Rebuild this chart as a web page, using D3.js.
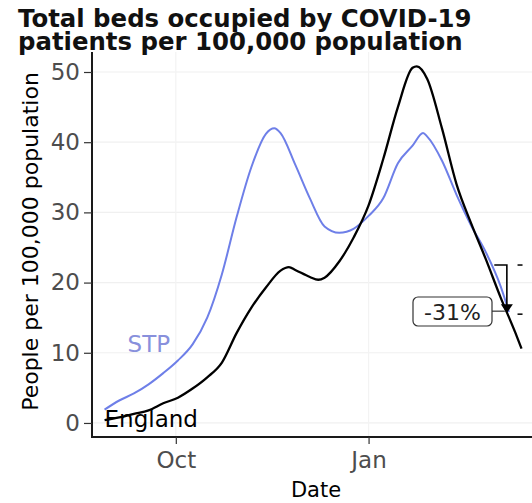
<!DOCTYPE html>
<html>
<head>
<meta charset="utf-8">
<script src="https://cdn.jsdelivr.net/npm/d3@7"></script>
<style>
  body { margin: 0; background: #fff; }
  svg { display: block; font-family: "DejaVu Sans", sans-serif; }
</style>
</head>
<body>
<div id="chart"></div>
<script>
// data
const stpDates = ["2020-08-28","2020-09-04","2020-09-11","2020-09-18","2020-09-25","2020-10-02","2020-10-09",
  "2020-10-16","2020-10-23","2020-10-30","2020-11-06","2020-11-13","2020-11-17","2020-11-20","2020-11-27",
  "2020-12-04","2020-12-11","2020-12-18","2020-12-25","2021-01-01","2021-01-08","2021-01-15","2021-01-22",
  "2021-01-27","2021-01-29","2021-02-05","2021-02-12","2021-02-19","2021-02-26","2021-03-05","2021-03-09"];
const stpValues = [1.9, 3.2, 4.2, 5.5, 7.1, 8.9, 11.2, 15.0, 21.2, 29.3, 36.4, 41.2, 42.0, 41.3, 36.8,
  32.0, 28.0, 27.1, 27.7, 29.5, 32.0, 37.0, 39.5, 41.3, 40.8, 37.4, 32.5, 28.1, 24.3, 19.5, 15.8];

const engDates = ["2020-08-28","2020-09-04","2020-09-11","2020-09-18","2020-09-25","2020-10-02","2020-10-09",
  "2020-10-16","2020-10-23","2020-10-30","2020-11-06","2020-11-13","2020-11-20","2020-11-24","2020-11-27",
  "2020-12-04","2020-12-08","2020-12-11","2020-12-18","2020-12-25","2021-01-01","2021-01-08","2021-01-15",
  "2021-01-22","2021-01-24","2021-01-29","2021-02-05","2021-02-12","2021-02-19","2021-02-26","2021-03-05",
  "2021-03-12","2021-03-15"];
const engValues = [0.4, 0.8, 1.3, 1.8, 2.8, 3.6, 4.9, 6.5, 8.6, 12.8, 16.4, 19.3, 21.7, 22.2, 21.8,
  20.8, 20.4, 20.7, 23.0, 26.5, 31.0, 37.6, 45.0, 50.6, 50.8, 49.0, 42.0, 34.0, 28.4, 23.3, 17.9, 12.9, 10.6];

const yTicks = [0, 10, 20, 30, 40, 50];
const xTicks = ["2020-10-01", "2021-01-01"];
const xTickLabels = ["Oct", "Jan"];

// change annotation: value a week back vs now
const annStart = "2021-03-02";
const annDate = "2021-03-08";
const annEnd = "2021-03-15";
const annFrom = 22.5;
const annTo = 15.5;
const annLabel = "-31%";

const W = 532, H = 503;
const parse = d3.timeParse("%Y-%m-%d");

const svg = d3.select("#chart").append("svg").attr("width", W).attr("height", H);

const x = d3.scaleTime()
  .domain([parse("2020-08-22"), parse("2021-03-20")])
  .range([92, 532]);
const y = d3.scaleLinear().domain([-2, 52.85]).range([437, 52]);

// grid
svg.append("g").selectAll("line").data(yTicks).join("line")
  .attr("x1", 92).attr("x2", W)
  .attr("y1", d => y(d)).attr("y2", d => y(d))
  .attr("stroke", "#f0f0f0").attr("stroke-width", 1.2);
svg.append("g").selectAll("line").data(xTicks).join("line")
  .attr("x1", d => x(parse(d))).attr("x2", d => x(parse(d)))
  .attr("y1", 52).attr("y2", 437)
  .attr("stroke", "#f3f3f3").attr("stroke-width", 1.2);

// axes
const yAxis = svg.append("g").attr("transform", "translate(92,0)")
  .call(d3.axisLeft(y).tickValues(yTicks).tickSize(8).tickPadding(4));
const xAxis = svg.append("g").attr("transform", "translate(0,437)")
  .call(d3.axisBottom(x).tickValues(xTicks.map(parse)).tickSize(7).tickPadding(8)
    .tickFormat((d, i) => xTickLabels[i]));

[yAxis, xAxis].forEach(g => {
  g.select(".domain").attr("stroke", "#1a1a1a").attr("stroke-width", 2);
  g.selectAll(".tick line").attr("stroke", "#333").attr("stroke-width", 1.2);
  g.selectAll(".tick text").attr("fill", "#4d4d4d").style("font-size", "23px")
    .style("font-family", "DejaVu Sans, sans-serif");
});
yAxis.select(".domain").attr("d", "M0,52V437");
xAxis.select(".domain").attr("d", `M91,0H${W}`);

// lines
const line = d3.line().x(d => x(d[0])).y(d => y(d[1])).curve(d3.curveMonotoneX);
const stp = stpDates.map((d, i) => [parse(d), stpValues[i]]);
const eng = engDates.map((d, i) => [parse(d), engValues[i]]);

svg.append("path").attr("d", line(stp)).attr("fill", "none")
  .attr("stroke", "#6e7fe8").attr("stroke-width", 2);
svg.append("path").attr("d", line(eng)).attr("fill", "none")
  .attr("stroke", "#000").attr("stroke-width", 2.3);

// series labels
svg.append("text").attr("x", x(parse("2020-09-08"))).attr("y", y(10.1))
  .attr("fill", "#8890dc").style("font-size", "23px").text("STP");
svg.append("text").attr("x", x(parse("2020-08-28"))).attr("y", y(-0.6))
  .attr("fill", "#000").style("font-size", "23px").text("England");

// annotation
const ax = x(parse(annDate));
svg.append("path")
  .attr("d", `M${x(parse(annStart))},${y(annFrom)}H${ax}V${y(annTo) - 8}`)
  .attr("fill", "none").attr("stroke", "#000").attr("stroke-width", 1.6);
svg.append("path")
  .attr("d", `M${ax - 6},${y(annTo) - 10}L${ax + 6},${y(annTo) - 10}L${ax},${y(annTo) - 1}Z`)
  .attr("fill", "#000");
[annFrom, annTo].forEach(v => {
  svg.append("line").attr("x1", x(parse(annEnd)) - 4).attr("x2", x(parse(annEnd)) + 1)
    .attr("y1", y(v)).attr("y2", y(v)).attr("stroke", "#000").attr("stroke-width", 1.5);
});
svg.append("line").attr("x1", 492).attr("x2", ax - 2)
  .attr("y1", y(annTo) - 3).attr("y2", y(annTo) - 3)
  .attr("stroke", "#333").attr("stroke-width", 1.2);
svg.append("rect").attr("x", 413).attr("y", 297).attr("width", 79).attr("height", 29)
  .attr("rx", 5).attr("fill", "#fff").attr("stroke", "#333").attr("stroke-width", 1.2);
svg.append("text").attr("x", 452.5).attr("y", 320).attr("text-anchor", "middle")
  .attr("fill", "#222").style("font-size", "22px").text(annLabel);

// titles
const title = svg.append("text").attr("x", 18).attr("fill", "#111")
  .style("font-weight", "bold").style("font-size", "24.4px");
title.append("tspan").attr("x", 18).attr("y", 27).text("Total beds occupied by COVID-19");
title.append("tspan").attr("x", 18).attr("y", 50).text("patients per 100,000 population");

svg.append("text").attr("transform", `translate(38,${(52 + 437) / 2 - 3}) rotate(-90)`)
  .attr("text-anchor", "middle").attr("fill", "#000").style("font-size", "22px")
  .text("People per 100,000 population");

svg.append("text").attr("x", 316).attr("y", 497).attr("text-anchor", "middle")
  .attr("fill", "#000").style("font-size", "21px").text("Date");
</script>
</body>
</html>
